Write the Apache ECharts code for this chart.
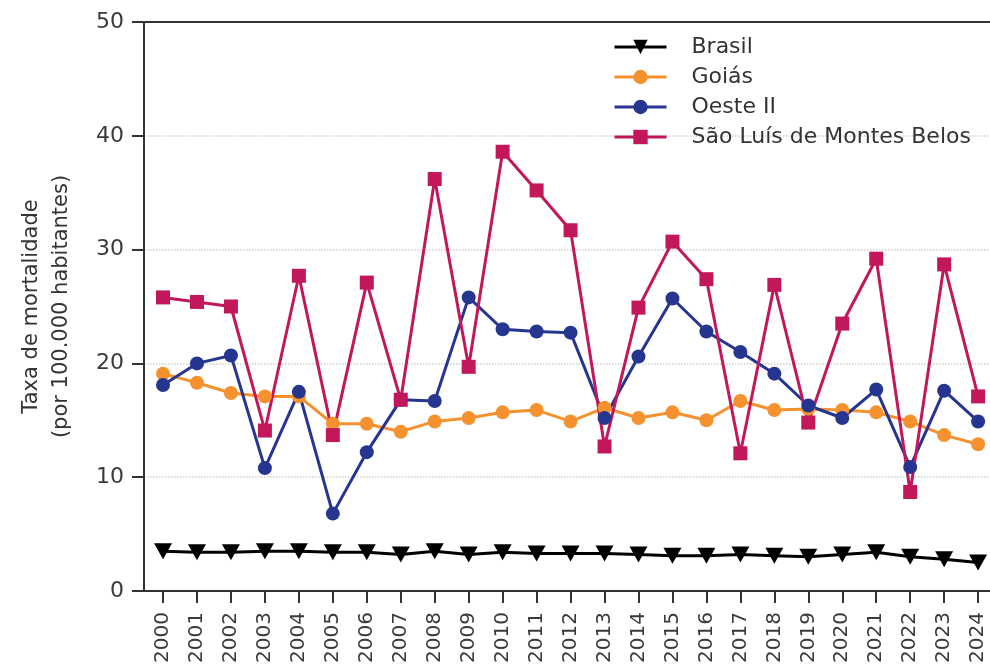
<!DOCTYPE html>
<html>
<head>
<meta charset="utf-8">
<script src="https://cdn.jsdelivr.net/npm/echarts@6/dist/echarts.min.js"></script>
<style>html,body{margin:0;padding:0;background:#fff}#c{width:990px;height:669px}</style>
</head>
<body>
<div id="c"></div>
<script>
const years = [2000,2001,2002,2003,2004,2005,2006,2007,2008,2009,2010,2011,2012,2013,2014,2015,2016,2017,2018,2019,2020,2021,2022,2023,2024];
const brasil = [3.5,3.4,3.4,3.5,3.5,3.4,3.4,3.2,3.5,3.2,3.4,3.3,3.3,3.3,3.2,3.1,3.1,3.2,3.1,3.0,3.2,3.4,3.0,2.8,2.5];
const goias = [19.1,18.3,17.4,17.1,17.1,14.7,14.7,14.0,14.9,15.2,15.7,15.9,14.9,16.1,15.2,15.7,15.0,16.7,15.9,16.0,15.9,15.7,14.9,13.7,12.9];
const oeste2 = [18.1,20.0,20.7,10.8,17.5,6.8,12.2,16.8,16.7,25.8,23.0,22.8,22.7,15.2,20.6,25.7,22.8,21.0,19.1,16.3,15.2,17.7,10.9,17.6,14.9];
const saoLuis = [25.8,25.4,25.0,14.1,27.7,13.7,27.1,16.8,36.2,19.7,38.6,35.2,31.7,12.7,24.9,30.7,27.4,12.1,26.9,14.8,23.5,29.2,8.7,28.7,17.1];
const seriesNames = ['Brasil','Goiás','Oeste II','São Luís de Montes Belos'];
const yTicks = [0,10,20,30,40,50];

const font = 'DejaVu Sans, Verdana, sans-serif';
const axisColor = '#333';
function pairs(arr){ return arr.map((v,i)=>[years[i], v]); }

const chart = echarts.init(document.getElementById('c'), null, {renderer:'canvas'});
const xMin = 1999.44, xMax = 2024.35;
chart.setOption({
  animation:false,
  backgroundColor:'#fff',
  grid:{left:144, right:0, top:22, bottom:78, containLabel:false},
  legend:{
    orient:'vertical', left:608, top:31, itemWidth:52, itemHeight:18, itemGap:8,
    lineStyle:{width:3},
    textStyle:{fontFamily:font, fontSize:22, color:'#333', padding:[0,0,0,20]},
    data:seriesNames
  },
  xAxis:[{
    type:'value', min:xMin, max:xMax,
    axisLine:{show:true, lineStyle:{color:axisColor, width:2}},
    axisTick:{show:true, length:12, lineStyle:{color:axisColor, width:2}, customValues:years},
    axisLabel:{show:true, rotate:90, margin:21, fontFamily:font, fontSize:20, color:'#3a3a3a', customValues:years, formatter:v=>String(v)},
    splitLine:{show:false}
  },{
    type:'value', position:'top', min:xMin, max:xMax,
    axisLine:{show:true, onZero:false, lineStyle:{color:axisColor, width:2}},
    axisTick:{show:false}, axisLabel:{show:false}, splitLine:{show:false}
  }],
  yAxis:{
    type:'value', min:0, max:50, interval:10,
    name:'Taxa de mortalidade\n(por 100.000 habitantes)',
    nameLocation:'middle', nameGap:67, nameRotate:90,
    nameTextStyle:{fontFamily:font, fontSize:21, color:'#333', lineHeight:30},
    axisLine:{show:true, lineStyle:{color:axisColor, width:2}},
    axisTick:{show:true, length:12, lineStyle:{color:axisColor, width:2}},
    axisLabel:{margin:20, fontFamily:font, fontSize:22, color:'#3a3a3a', formatter:v=>yTicks.includes(v)?String(v):''},
    splitLine:{show:true, lineStyle:{color:'#cfcfcf', type:'dotted', width:1.5}}
  },
  series:[
    {name:seriesNames[0], type:'line', data:pairs(brasil), symbol:'triangle', symbolRotate:180, symbolSize:[18,16],
     lineStyle:{color:'#000', width:3}, itemStyle:{color:'#000'}},
    {name:seriesNames[1], type:'line', data:pairs(goias), symbol:'circle', symbolSize:14,
     lineStyle:{color:'#F5922F', width:3}, itemStyle:{color:'#F5922F'}},
    {name:seriesNames[2], type:'line', data:pairs(oeste2), symbol:'circle', symbolSize:14,
     lineStyle:{color:'#26358F', width:3}, itemStyle:{color:'#26358F'}},
    {name:seriesNames[3], type:'line', data:pairs(saoLuis), symbol:'rect', symbolSize:14,
     lineStyle:{color:'#C2185B', width:3}, itemStyle:{color:'#C2185B'}}
  ]
});
</script>
</body>
</html>
